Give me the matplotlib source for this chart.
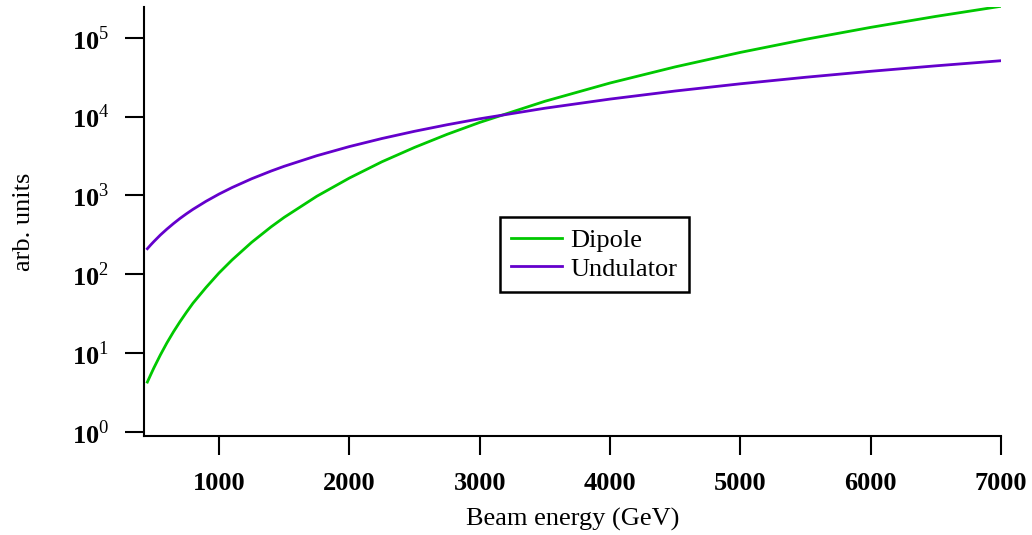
import math
import matplotlib
matplotlib.use("Agg")
import matplotlib.pyplot as plt
from matplotlib.ticker import FixedLocator, FuncFormatter

plt.rcParams['font.family'] = ['Liberation Serif', 'DejaVu Serif']
plt.rcParams['mathtext.fontset'] = 'custom'
plt.rcParams['mathtext.rm'] = 'Liberation Serif'
plt.rcParams['mathtext.bf'] = 'Liberation Serif:bold'

# beam energy in GeV and relative intensity for each source
energy = [450, 475, 500, 550, 600, 650, 700, 750, 800, 900, 1000, 1100, 1250,
          1400, 1500, 1750, 2000, 2250, 2500, 2750, 3000, 3500, 4000, 4500,
          5000, 5500, 6000, 6500, 7000]
dipole = [4.3, 5.3, 6.5, 9.5, 13.5, 18.6, 25, 33, 43, 68, 104, 152, 254,
          400, 527, 975, 1660, 2670, 4060, 5950, 8420, 15600, 26600, 42600,
          65000, 95200, 135000, 186000, 250000]
undulator = [211, 235, 260, 315, 374, 439, 510, 585, 666, 842, 1040, 1258, 1625,
             2038, 2340, 3185, 4160, 5265, 6500, 7865, 9360, 12740, 16640, 21060,
             26000, 31460, 37440, 43940, 51000]

x_ticks = [1000, 2000, 3000, 4000, 5000, 6000, 7000]
y_ticks = [1, 10, 100, 1000, 10000, 100000]

fig = plt.figure(figsize=(10.32, 5.35), dpi=100)
ax = fig.add_axes([0.1395, 0.185, 0.8305, 0.802])

ax.plot(energy, dipole, color='#00c800', lw=2, label='Dipole')
ax.plot(energy, undulator, color='#6400cc', lw=2, label='Undulator')

ax.set_yscale('log')
ax.set_xlim(424, 7000)
ax.set_ylim(0.89, 2.45e5)

ax.xaxis.set_major_locator(FixedLocator(x_ticks))
ax.yaxis.set_major_locator(FixedLocator(y_ticks))
ax.yaxis.set_minor_locator(FixedLocator([]))
ax.yaxis.set_major_formatter(FuncFormatter(
    lambda v, p: r'$\mathbf{10}^{%d}$' % round(math.log10(v))))

ax.tick_params(direction='out', length=14, width=1.5, labelsize=19, pad=11)
ax.tick_params(axis='x', pad=12)
for lab in ax.get_xticklabels():
    lab.set_fontweight('bold')

for s in ['top', 'right']:
    ax.spines[s].set_visible(False)
for s in ['left', 'bottom']:
    ax.spines[s].set_linewidth(1.5)

ax.set_xlabel('Beam energy (GeV)', fontsize=19, labelpad=9)
ax.set_ylabel('arb. units', fontsize=19, labelpad=26)

leg = ax.legend(loc='upper left', bbox_to_anchor=(0.415, 0.51), borderaxespad=0,
                fontsize=19, handlelength=1.95, handletextpad=0.32,
                labelspacing=0.2, borderpad=0.42, fancybox=False, framealpha=1)
leg.get_frame().set_edgecolor('black')
leg.get_frame().set_linewidth(1.8)

fig.savefig('out.png', dpi=100)
plt.close()
